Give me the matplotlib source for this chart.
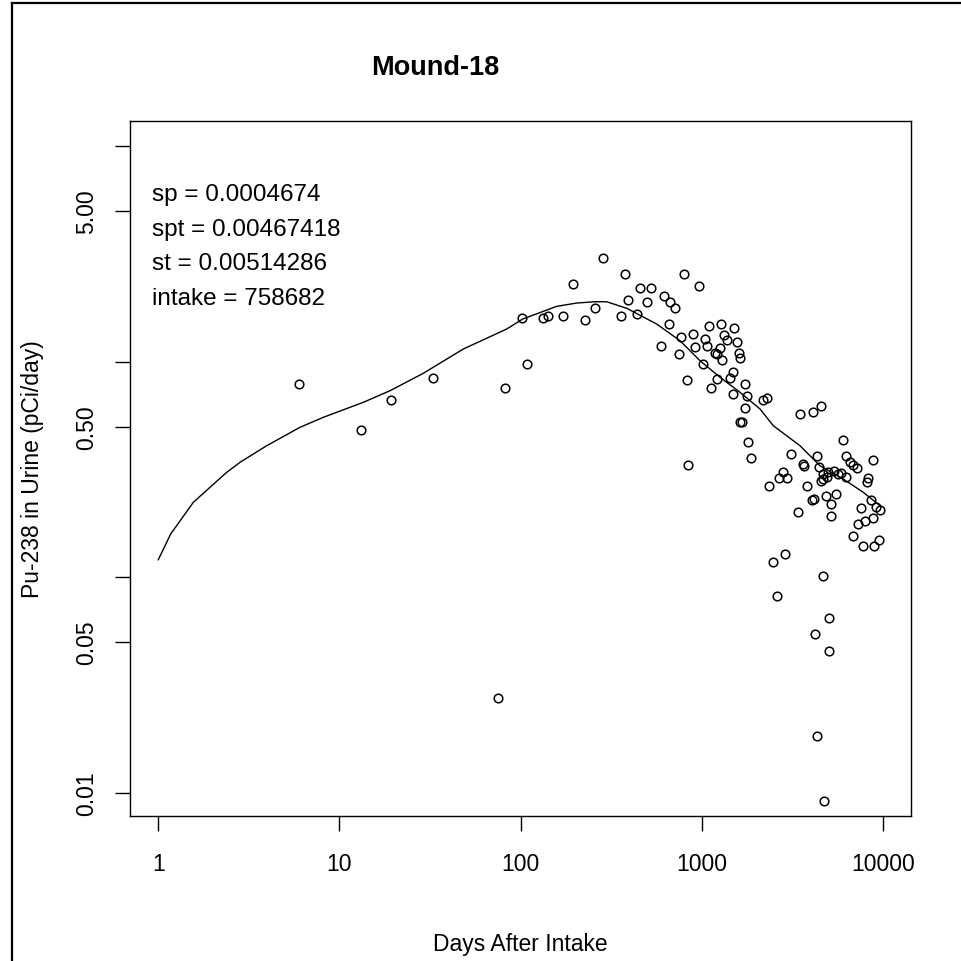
import matplotlib
matplotlib.use("Agg")
import matplotlib.pyplot as plt
from matplotlib.lines import Line2D
from matplotlib.ticker import FixedLocator, FixedFormatter, NullLocator

plt.rcParams['font.family'] = ['Liberation Sans', 'DejaVu Sans']

# Urine bioassay measurements: days after intake and Pu-238 activity (pCi/day)
days = [
    5.98, 13.09, 19.24, 32.7, 75.2, 81.9, 109, 102, 132, 142, 170.5, 226, 257, 194, 283.5,
    376, 455, 522, 800, 960, 392.6, 496, 620, 667, 710, 356, 437, 656, 595, 764, 890,
    745, 913, 824, 838,
    1099, 1270, 1510, 1036, 1327, 1370, 1556, 1063, 1266, 1174, 1211, 1602, 1633, 1299,
    1010, 1479, 1423, 1211, 1118, 1730, 1479, 1778, 2165, 2279, 1730, 1633, 1675, 1803,
    1859,
    3491, 4088, 4531, 5984, 3090, 4317, 6265, 6567, 6822, 7160, 8763, 3614, 3683, 4418,
    4677, 4984, 5358, 5658, 5880, 6241, 4642, 4525, 4883, 8284, 8148, 2813, 2960, 2674,
    2355, 3788, 4040, 4180, 4810, 5515, 5138, 8521, 9138, 9614, 3413, 5138, 7532, 8797,
    7947, 7298, 6796, 7746, 8932, 9528, 2875, 2459, 4642, 2587, 5010, 4209, 5010, 4301,
    4737,
]
urine = [
    0.788, 0.482, 0.664, 0.840, 0.0274, 0.753, 0.976, 1.59, 1.59, 1.635, 1.635, 1.566,
    1.775, 2.294, 3.02,
    2.553, 2.19, 2.19, 2.553, 2.238, 1.94, 1.898, 2.024, 1.898, 1.769, 1.624, 1.665,
    1.496, 1.186, 1.298, 1.345, 1.086, 1.166, 0.822, 0.3317,
    1.469, 1.496, 1.429, 1.27, 1.33, 1.261, 1.241, 1.183, 1.155, 1.092, 1.086, 1.097,
    1.044, 1.018, 0.976, 0.899, 0.843, 0.827, 0.753, 0.788, 0.708, 0.693, 0.664, 0.676,
    0.608, 0.5234, 0.5234, 0.4227, 0.3562,
    0.572, 0.584, 0.623, 0.4331, 0.3729, 0.3662, 0.3662, 0.3441, 0.3334, 0.32, 0.349,
    0.3341, 0.3291, 0.3236, 0.3012, 0.3088, 0.3111, 0.3012, 0.3044, 0.2907, 0.2855,
    0.2803, 0.2932, 0.2891, 0.2765, 0.3088, 0.2876, 0.2876, 0.2641, 0.2641, 0.2292,
    0.2302, 0.2388, 0.2427, 0.2186, 0.2294, 0.2117, 0.2044, 0.2007, 0.193, 0.209, 0.1892,
    0.1829, 0.1766, 0.1553, 0.1396, 0.1396, 0.1488, 0.1281, 0.1172, 0.1013, 0.0815,
    0.0645, 0.0543, 0.0456, 0.01827, 0.00918,
]

# Fitted excretion curve
fit_days = [1.0, 1.17, 1.56, 2.385, 2.824, 3.965, 6.05, 8.14, 13.53, 19.0, 29.0, 48.2,
            83.7, 102.6, 158, 204, 257, 298, 385, 563, 757, 976, 1259, 1623, 2093, 2477,
            3478, 4486, 6032, 7776, 9614]
fit_urine = [0.1206, 0.1586, 0.2226, 0.3067, 0.3413, 0.4076, 0.4961, 0.552, 0.648,
             0.7335, 0.8835, 1.145, 1.418, 1.578, 1.807, 1.872, 1.898, 1.898, 1.769,
             1.496, 1.252, 1.011, 0.8467, 0.7212, 0.6034, 0.5047, 0.4076, 0.3291,
             0.2855, 0.2477, 0.2147]

x_ticks = [1, 10, 100, 1000, 10000]
x_tick_labels = ['1', '10', '100', '1000', '10000']
y_ticks = [0.01, 0.05, 0.1, 0.5, 1, 5, 10]
y_tick_labels = ['0.01', '0.05', '', '0.50', '', '5.00', '']

fit_params = ['sp = 0.0004674', 'spt = 0.00467418', 'st = 0.00514286', 'intake = 758682']

W = H = 962
fig = plt.figure(figsize=(W / 100, H / 100), dpi=100)
ax = fig.add_axes([130 / W, (H - 817) / H, 781 / W, 695 / H])

ax.set_xscale('log')
ax.set_yscale('log')
ax.set_xlim(0.698, 14256)
ax.set_ylim(0.0078, 13.09)

ax.plot(fit_days, fit_urine, color='black', lw=1.0)
ax.plot(days, urine, linestyle='none', marker='o', markersize=6.2,
        markerfacecolor='none', markeredgecolor='black', markeredgewidth=1.1)

ax.xaxis.set_major_locator(FixedLocator(x_ticks))
ax.xaxis.set_major_formatter(FixedFormatter(x_tick_labels))
ax.xaxis.set_minor_locator(NullLocator())
ax.yaxis.set_major_locator(FixedLocator(y_ticks))
ax.yaxis.set_major_formatter(FixedFormatter(y_tick_labels))
ax.yaxis.set_minor_locator(NullLocator())

ax.tick_params(axis='both', which='major', direction='out', length=11, width=1.0,
               labelsize=16.5, color='black')
ax.tick_params(axis='x', pad=15)
ax.tick_params(axis='y', pad=12)
for lbl in ax.get_yticklabels():
    lbl.set_rotation(90)
    lbl.set_va('center')

for sp in ax.spines.values():
    sp.set_linewidth(1.0)
    sp.set_color('black')

ax.set_xlabel('Days After Intake', fontsize=16.5, labelpad=41)
ax.set_ylabel('Pu-238 in Urine (pCi/day)', fontsize=16.5, labelpad=22)

fig.text(435 / W, 1 - 68 / H, 'Mound-18', fontsize=19.5, fontweight='bold',
         ha='center', va='center')

for i, s in enumerate(fit_params):
    fig.text(152 / W, 1 - (201 + 34.7 * i) / H, s, fontsize=17.5, ha='left',
             va='baseline')

# Outer frame along the top and left edges
fig.add_artist(Line2D([11.5 / W, 11.5 / W], [0, 1 - 3.5 / H], color='black', lw=1.6,
                      transform=fig.transFigure))
fig.add_artist(Line2D([11.5 / W, 1], [1 - 3.5 / H, 1 - 3.5 / H], color='black', lw=1.6,
                      transform=fig.transFigure))

fig.savefig('out.png', dpi=100)
